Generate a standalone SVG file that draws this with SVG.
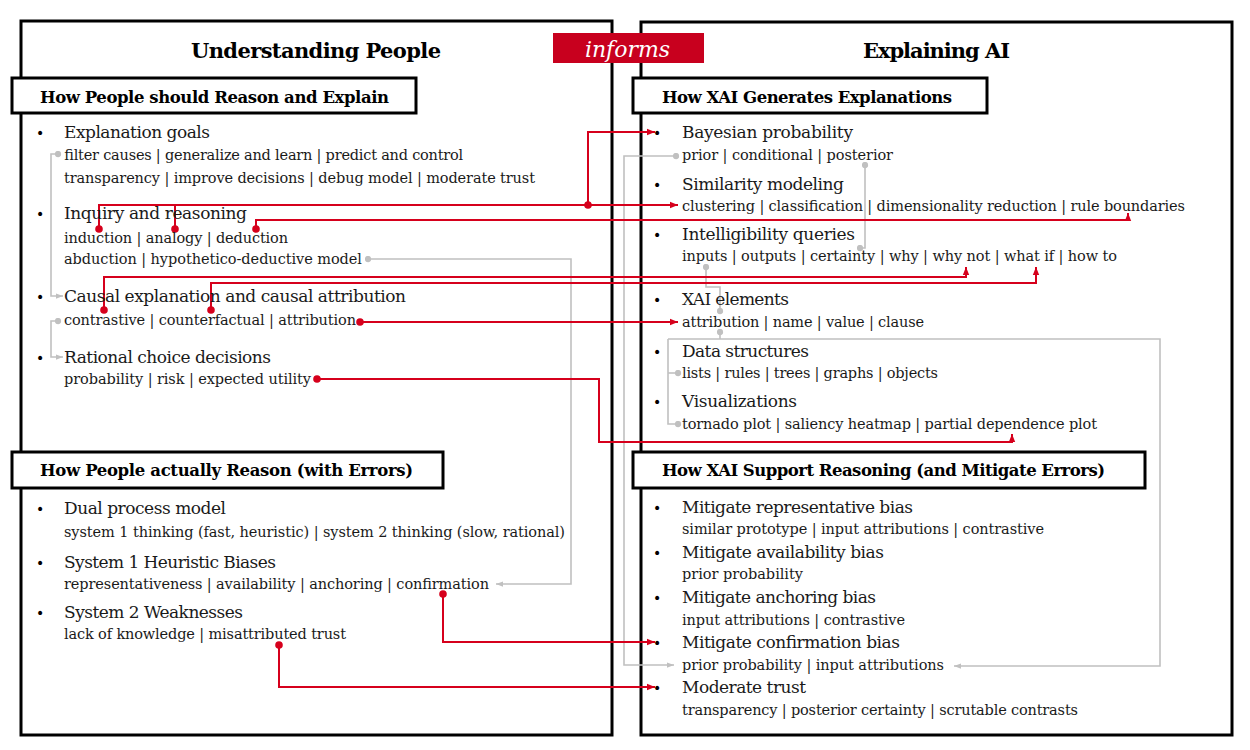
<svg xmlns="http://www.w3.org/2000/svg" width="1250" height="750" viewBox="0 0 1250 750">
<style>
.panel{fill:none;stroke:#000;stroke-width:3}
.hbox{fill:#fff;stroke:#000;stroke-width:3}
.ttl{font-family:"DejaVu Serif","Liberation Serif",serif;font-weight:bold;font-size:21px;fill:#000}
.hd{font-family:"DejaVu Serif","Liberation Serif",serif;font-weight:bold;font-size:16.5px;fill:#000}
.m{font-family:"DejaVu Serif","Liberation Serif",serif;font-size:17px;fill:#1a1a1a}
.s{font-family:"DejaVu Serif","Liberation Serif",serif;font-size:14.5px;fill:#1a1a1a}
.b{font-family:"DejaVu Sans","Liberation Sans",sans-serif;font-size:14px;fill:#000}
.inf{font-family:"DejaVu Serif","Liberation Serif",serif;font-style:italic;font-size:22px;fill:#fff}
.red{fill:none;stroke:#d6001c;stroke-width:2}
.gry{fill:none;stroke:#c0c0c0;stroke-width:1.6}
.rdot{fill:#d6001c}
</style>
<defs>
<marker id="ra" viewBox="0 0 8 8" refX="8" refY="4" markerWidth="8" markerHeight="8" markerUnits="userSpaceOnUse" orient="auto"><path d="M0,0.8 L8,4 L0,7.2 z" fill="#d6001c"/></marker>
<marker id="ga" viewBox="0 0 8 8" refX="8" refY="4" markerWidth="7" markerHeight="7" markerUnits="userSpaceOnUse" orient="auto"><path d="M0,1 L8,4 L0,7 z" fill="#c0c0c0"/></marker>
<marker id="rd" viewBox="0 0 8 8" refX="4" refY="4" markerWidth="8" markerHeight="8" markerUnits="userSpaceOnUse"><circle cx="4" cy="4" r="3.8" fill="#d6001c"/></marker>
<marker id="gd" viewBox="0 0 8 8" refX="4" refY="4" markerWidth="7" markerHeight="7" markerUnits="userSpaceOnUse"><circle cx="4" cy="4" r="3.6" fill="#c0c0c0"/></marker>
</defs>
<rect width="1250" height="750" fill="#fff"/>

<g id="panel-left">
<rect class="panel" x="21" y="21" width="591" height="714"/>
<text class="ttl" x="191" y="58" textLength="250">Understanding People</text>
</g>
<g id="panel-right">
<rect class="panel" x="641" y="22" width="591" height="713"/>
<text class="ttl" x="863" y="58" textLength="147">Explaining AI</text>
</g>

<g id="connectors">
<path class="gry" d="M58,154 H51 V296 H63" marker-start="url(#gd)" marker-end="url(#ga)"/>
<path class="gry" d="M58,321 H51 V357 H63" marker-start="url(#gd)" marker-end="url(#ga)"/>
<path class="gry" d="M368,259 H571 V584 H496" marker-start="url(#gd)" marker-end="url(#ga)"/>
<path class="gry" d="M676,156 H624 V665 H674" marker-start="url(#gd)" marker-end="url(#ga)"/>
<path class="gry" d="M865,165 V248 H860" marker-start="url(#gd)" marker-end="url(#gd)"/>
<path class="gry" d="M706,267 V287 H720 V311" marker-start="url(#gd)" marker-end="url(#gd)"/>
<path class="gry" d="M720,332 V339" marker-start="url(#gd)"/>
<path class="gry" d="M668,339 H1160 V666 H954" marker-end="url(#ga)"/>
<path class="gry" d="M668,339 V424 H678" marker-end="url(#gd)"/>
<path class="gry" d="M668,373 H678" marker-end="url(#gd)"/>
<path class="red" d="M99,229 V205 H678" marker-start="url(#rd)" marker-end="url(#ra)"/>
<path class="red" d="M175,229 V205" marker-start="url(#rd)"/>
<path class="red" d="M588,205 V132 H655" marker-end="url(#ra)"/>
<circle class="rdot" cx="588" cy="205" r="3.8"/>
<path class="red" d="M256,229 V220 H1128 V213" marker-start="url(#rd)" marker-end="url(#ra)"/>
<path class="red" d="M104,310 V277 H966 V267" marker-start="url(#rd)" marker-end="url(#ra)"/>
<path class="red" d="M211,310 V283 H1036 V267" marker-start="url(#rd)" marker-end="url(#ra)"/>
<path class="red" d="M360,322 H678" marker-start="url(#rd)" marker-end="url(#ra)"/>
<path class="red" d="M317,379 H599 V442 H1012 V434" marker-start="url(#rd)" marker-end="url(#ra)"/>
<path class="red" d="M443,594 V642 H655" marker-start="url(#rd)" marker-end="url(#ra)"/>
<path class="red" d="M279,645 V687 H655" marker-start="url(#rd)" marker-end="url(#ra)"/>
</g>

<g id="informs">
<rect x="553" y="33" width="151" height="30" fill="#c8001e"/>
<text class="inf" x="585" y="57" textLength="85">informs</text>
</g>

<g id="hdr-should">
<rect class="hbox" x="12" y="78" width="404" height="35"/>
<text class="hd" x="40" y="103" textLength="349">How People should Reason and Explain</text>
</g>
<g id="hdr-generates">
<rect class="hbox" x="633" y="78" width="354" height="35"/>
<text class="hd" x="662" y="103" textLength="290">How XAI Generates Explanations</text>
</g>
<g id="hdr-actually">
<rect class="hbox" x="12" y="452" width="431" height="36"/>
<text class="hd" x="40" y="476" textLength="373">How People actually Reason (with Errors)</text>
</g>
<g id="hdr-support">
<rect class="hbox" x="633" y="452" width="512" height="36"/>
<text class="hd" x="662" y="476" textLength="443">How XAI Support Reasoning (and Mitigate Errors)</text>
</g>

<g id="explanation-goals">
<text class="b" x="36" y="138">•</text>
<text class="m" x="64" y="138" textLength="146">Explanation goals</text>
<text class="s" x="64" y="160" textLength="399">filter causes | generalize and learn | predict and control</text>
<text class="s" x="64" y="183" textLength="471">transparency | improve decisions | debug model | moderate trust</text>
</g>
<g id="inquiry">
<text class="b" x="36" y="219">•</text>
<text class="m" x="64" y="219" textLength="183">Inquiry and reasoning</text>
<text class="s" x="64" y="243" textLength="224">induction | analogy | deduction</text>
<text class="s" x="64" y="264" textLength="298">abduction | hypothetico-deductive model</text>
</g>
<g id="causal">
<text class="b" x="36" y="302">•</text>
<text class="m" x="64" y="302" textLength="342">Causal explanation and causal attribution</text>
<text class="s" x="64" y="325" textLength="292">contrastive | counterfactual | attribution</text>
</g>
<g id="rational">
<text class="b" x="36" y="363">•</text>
<text class="m" x="64" y="363" textLength="207">Rational choice decisions</text>
<text class="s" x="64" y="384" textLength="247">probability | risk | expected utility</text>
</g>
<g id="dual">
<text class="b" x="36" y="514">•</text>
<text class="m" x="64" y="514" textLength="162">Dual process model</text>
<text class="s" x="64" y="537" textLength="501">system 1 thinking (fast, heuristic) | system 2 thinking (slow, rational)</text>
</g>
<g id="system1">
<text class="b" x="36" y="568">•</text>
<text class="m" x="64" y="568" textLength="212">System 1 Heuristic Biases</text>
<text class="s" x="64" y="589" textLength="425">representativeness | availability | anchoring | confirmation</text>
</g>
<g id="system2">
<text class="b" x="36" y="618">•</text>
<text class="m" x="64" y="618" textLength="179">System 2 Weaknesses</text>
<text class="s" x="64" y="639" textLength="282">lack of knowledge | misattributed trust</text>
</g>

<g id="bayesian">
<text class="b" x="653" y="138">•</text>
<text class="m" x="682" y="138" textLength="171">Bayesian probability</text>
<text class="s" x="682" y="160" textLength="211">prior | conditional | posterior</text>
</g>
<g id="similarity">
<text class="b" x="653" y="190">•</text>
<text class="m" x="682" y="190" textLength="162">Similarity modeling</text>
<text class="s" x="682" y="211" textLength="503">clustering | classification | dimensionality reduction | rule boundaries</text>
</g>
<g id="intelligibility">
<text class="b" x="653" y="240">•</text>
<text class="m" x="682" y="240" textLength="173">Intelligibility queries</text>
<text class="s" x="682" y="261" textLength="435">inputs | outputs | certainty | why | why not | what if | how to</text>
</g>
<g id="xai-elements">
<text class="b" x="653" y="305">•</text>
<text class="m" x="682" y="305" textLength="107">XAI elements</text>
<text class="s" x="682" y="327" textLength="242">attribution | name | value | clause</text>
</g>
<g id="data-structures">
<text class="b" x="653" y="357">•</text>
<text class="m" x="682" y="357" textLength="127">Data structures</text>
<text class="s" x="682" y="378" textLength="256">lists | rules | trees | graphs | objects</text>
</g>
<g id="visualizations">
<text class="b" x="653" y="407">•</text>
<text class="m" x="682" y="407" textLength="115">Visualizations</text>
<text class="s" x="682" y="429" textLength="415">tornado plot | saliency heatmap | partial dependence plot</text>
</g>
<g id="mit-representative">
<text class="b" x="653" y="513">•</text>
<text class="m" x="682" y="513" textLength="231">Mitigate representative bias</text>
<text class="s" x="682" y="534" textLength="362">similar prototype | input attributions | contrastive</text>
</g>
<g id="mit-availability">
<text class="b" x="653" y="558">•</text>
<text class="m" x="682" y="558" textLength="202">Mitigate availability bias</text>
<text class="s" x="682" y="579" textLength="121">prior probability</text>
</g>
<g id="mit-anchoring">
<text class="b" x="653" y="603">•</text>
<text class="m" x="682" y="603" textLength="194">Mitigate anchoring bias</text>
<text class="s" x="682" y="625" textLength="223">input attributions | contrastive</text>
</g>
<g id="mit-confirmation">
<text class="b" x="653" y="648">•</text>
<text class="m" x="682" y="648" textLength="218">Mitigate confirmation bias</text>
<text class="s" x="682" y="670" textLength="262">prior probability | input attributions</text>
</g>
<g id="moderate-trust">
<text class="b" x="653" y="693">•</text>
<text class="m" x="682" y="693" textLength="124">Moderate trust</text>
<text class="s" x="682" y="715" textLength="396">transparency | posterior certainty | scrutable contrasts</text>
</g>
</svg>
